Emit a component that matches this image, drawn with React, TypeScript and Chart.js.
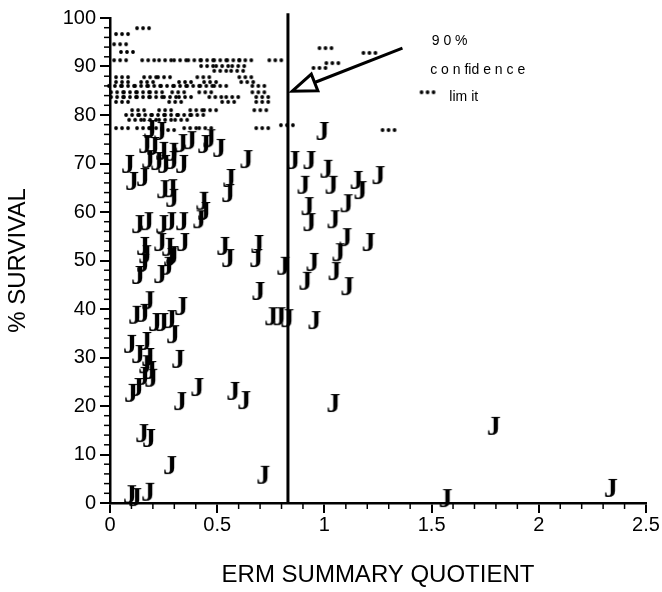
import React, { useEffect, useRef } from "react";
import { Chart, registerables } from "chart.js";

Chart.register(...registerables);

// "J" markers: [ERM summary quotient, % survival]
const jMarkers: [number, number][] = [
  [0.187, 76.7], [0.234, 76.3], [0.164, 73.6], [0.201, 73.2], [0.243, 72.2], [0.29, 72.0],
  [0.332, 73.8], [0.374, 74.4], [0.439, 73.6], [0.463, 74.8], [0.509, 72.8], [0.084, 69.5],
  [0.178, 70.5], [0.22, 70.1], [0.252, 69.5], [0.29, 70.3], [0.336, 69.5], [0.103, 66.0],
  [0.154, 66.8], [0.248, 64.3], [0.285, 64.5], [0.29, 62.5], [0.43, 61.9], [0.439, 59.8],
  [0.551, 63.5], [0.131, 57.1], [0.173, 57.7], [0.243, 57.1], [0.28, 57.7], [0.336, 57.7],
  [0.416, 58.1], [0.154, 52.6], [0.164, 50.9], [0.234, 53.4], [0.271, 52.4], [0.29, 50.7],
  [0.341, 53.4], [0.131, 46.6], [0.154, 49.1], [0.234, 46.8], [0.266, 48.5], [0.28, 50.3],
  [0.178, 41.4], [0.117, 38.4], [0.154, 38.8], [0.21, 36.9], [0.243, 36.9], [0.28, 37.5],
  [0.332, 40.2], [0.294, 34.4], [0.093, 32.4], [0.164, 33.0], [0.131, 30.3], [0.178, 29.7],
  [0.164, 28.2], [0.187, 27.0], [0.154, 25.8], [0.192, 25.4], [0.318, 29.3], [0.098, 22.3],
  [0.126, 23.5], [0.327, 20.6], [0.407, 23.5], [0.15, 14.0], [0.182, 13.0], [0.28, 7.4],
  [0.093, 1.4], [0.117, 0.8], [0.178, 1.9],
  [0.528, 52.6], [0.551, 50.1], [0.687, 53.0], [0.682, 50.1], [0.692, 43.3], [0.575, 22.7],
  [0.626, 20.8], [0.715, 5.4], [0.556, 66.6], [0.636, 70.5],
  [0.991, 76.3], [0.855, 70.3], [0.93, 70.3], [1.009, 68.5], [0.902, 65.2], [1.033, 65.2],
  [1.15, 66.2], [1.168, 64.1], [1.252, 67.2], [0.921, 60.8], [1.103, 61.4], [0.93, 57.5],
  [1.042, 58.1], [1.098, 54.4], [1.206, 53.4], [1.065, 51.3], [0.944, 49.3], [0.808, 48.5],
  [0.911, 45.4], [1.047, 47.4], [1.107, 44.3], [0.752, 38.1], [0.79, 38.1], [0.827, 37.7],
  [0.953, 37.3], [1.042, 20.2], [1.79, 15.5], [1.565, 0.6], [2.336, 2.7],
];

// dotted ("•••") markers: [ERM summary quotient, % survival]
const dotMarkers: [number, number][] = [
  [0.154, 97.9], [0.056, 96.7], [0.047, 94.6], [0.079, 93.0],
  [0.047, 91.3], [0.178, 91.3], [0.257, 91.3], [0.327, 91.3], [0.393, 91.3], [0.453, 91.3],
  [0.514, 91.3], [0.575, 91.3], [0.631, 91.3], [0.771, 91.3],
  [0.453, 90.1], [0.523, 90.1], [0.598, 90.1],
  [0.514, 89.1], [0.593, 89.1],
  [0.056, 87.8], [0.187, 87.8], [0.252, 87.8], [0.435, 87.8], [0.631, 87.8],
  [0.056, 86.8], [0.173, 86.8], [0.35, 86.8], [0.467, 86.8], [0.64, 86.8],
  [0.023, 86.0], [0.084, 86.0], [0.145, 86.0], [0.206, 86.0], [0.266, 86.0], [0.327, 86.0],
  [0.388, 86.0], [0.449, 86.0], [0.514, 86.0], [0.692, 86.0],
  [0.033, 84.7], [0.093, 84.7], [0.154, 84.7], [0.215, 84.7], [0.318, 84.7], [0.444, 84.7],
  [0.692, 84.7],
  [0.033, 83.7], [0.093, 83.7], [0.154, 83.7], [0.215, 83.7], [0.28, 83.7], [0.35, 83.7],
  [0.491, 83.7], [0.57, 83.7], [0.71, 83.7],
  [0.056, 82.7], [0.304, 82.7], [0.551, 82.7], [0.71, 82.7],
  [0.131, 81.0], [0.257, 81.0], [0.402, 81.0], [0.467, 81.0], [0.701, 81.0],
  [0.103, 80.0], [0.164, 80.0], [0.224, 80.0], [0.285, 80.0], [0.346, 80.0], [0.407, 80.0],
  [0.117, 79.0], [0.187, 79.0], [0.257, 79.0], [0.332, 79.0],
  [0.825, 77.9],
  [0.056, 77.3], [0.154, 77.3], [0.215, 77.3], [0.374, 77.3], [0.444, 77.3], [0.71, 77.3],
  [0.271, 76.9], [1.299, 76.9],
  [1.005, 93.8], [1.21, 92.8], [1.037, 90.7], [0.977, 89.7], [1.481, 84.7],
];

const xTickValues = [0, 0.5, 1, 1.5, 2, 2.5];
const yTickValues = [0, 10, 20, 30, 40, 50, 60, 70, 80, 90, 100];
const limitX = 0.83;
const noteLines = ["9 0 %", "c o n fid e n c e", "lim it"];
const noteX = [1.584, 1.715, 1.65];
const noteY = [95.2, 89.3, 83.6];
const arrowFrom: [number, number] = [1.364, 93.8];
const arrowTo: [number, number] = [0.85, 84.9];

const SANS = "'Liberation Sans', Arial, Helvetica, sans-serif";

function makeJ(): HTMLCanvasElement {
  const c = document.createElement("canvas");
  c.width = 26;
  c.height = 32;
  const g = c.getContext("2d")!;
  g.fillStyle = "#000";
  g.font = "bold 28px 'Liberation Serif', 'Times New Roman', serif";
  g.textAlign = "center";
  g.textBaseline = "middle";
  g.fillText("J", 13, 16);
  return c;
}

function makeDots(): HTMLCanvasElement {
  const c = document.createElement("canvas");
  c.width = 18;
  c.height = 6;
  const g = c.getContext("2d")!;
  g.fillStyle = "#000";
  [3, 9, 15].forEach((cx) => {
    g.beginPath();
    g.arc(cx, 3, 1.9, 0, Math.PI * 2);
    g.fill();
  });
  return c;
}

const extrasPlugin = {
  id: "extras",
  afterDraw(chart: any) {
    const { ctx, scales } = chart;
    const x = scales.x;
    const y = scales.y;
    ctx.save();
    ctx.strokeStyle = "#000";
    ctx.lineWidth = 1.5;
    // minor ticks
    for (let i = 0; i <= 25; i++) {
      if (i % 5 === 0) continue;
      const px = x.getPixelForValue(i / 10);
      ctx.beginPath();
      ctx.moveTo(px, y.bottom);
      ctx.lineTo(px, y.bottom + 6);
      ctx.stroke();
    }
    for (let i = 0; i <= 50; i++) {
      if (i % 5 === 0) continue;
      const py = y.getPixelForValue(i * 2);
      ctx.beginPath();
      ctx.moveTo(x.left, py);
      ctx.lineTo(x.left - 6, py);
      ctx.stroke();
    }
    // annotation text
    ctx.fillStyle = "#000";
    ctx.font = `14px ${SANS}`;
    ctx.textAlign = "center";
    ctx.textBaseline = "middle";
    noteLines.forEach((t, i) => {
      ctx.fillText(t, x.getPixelForValue(noteX[i]), y.getPixelForValue(noteY[i]));
    });
    // arrow
    const x0 = x.getPixelForValue(arrowFrom[0]);
    const y0 = y.getPixelForValue(arrowFrom[1]);
    const x1 = x.getPixelForValue(arrowTo[0]);
    const y1 = y.getPixelForValue(arrowTo[1]);
    const dx = x1 - x0;
    const dy = y1 - y0;
    const len = Math.hypot(dx, dy);
    const ux = dx / len;
    const uy = dy / len;
    const headLen = 24;
    const half = 9;
    const bx = x1 - ux * headLen;
    const by = y1 - uy * headLen;
    ctx.lineWidth = 3;
    ctx.lineJoin = "miter";
    ctx.beginPath();
    ctx.moveTo(x0, y0);
    ctx.lineTo(bx, by);
    ctx.stroke();
    ctx.beginPath();
    ctx.moveTo(x1, y1);
    ctx.lineTo(bx - uy * half, by + ux * half);
    ctx.lineTo(bx + uy * half, by - ux * half);
    ctx.closePath();
    ctx.fillStyle = "#fff";
    ctx.fill();
    ctx.stroke();
    ctx.restore();
  },
};

export default function App() {
  const ref = useRef<HTMLCanvasElement | null>(null);

  useEffect(() => {
    if (!ref.current) return;
    const jImg = makeJ();
    const dotImg = makeDots();
    const chart = new Chart(ref.current, {
      type: "scatter",
      data: {
        datasets: [
          {
            label: "J",
            data: jMarkers.map(([x, y]) => ({ x, y })),
            pointStyle: jImg as any,
            pointRadius: 6,
            clip: false as any,
          },
          {
            label: "dots",
            data: dotMarkers.map(([x, y]) => ({ x, y })),
            pointStyle: dotImg as any,
            pointRadius: 4,
            clip: false as any,
          },
          {
            type: "line" as any,
            label: "limit",
            data: [
              { x: limitX, y: 0 },
              { x: limitX, y: 101 },
            ],
            borderColor: "#000",
            borderWidth: 3,
            pointRadius: 0,
            clip: false as any,
          } as any,
        ],
      },
      options: {
        animation: false,
        responsive: false,
        maintainAspectRatio: false,
        layout: { padding: { left: 0, right: 16, top: 18, bottom: 0 } },
        plugins: { legend: { display: false }, tooltip: { enabled: false } },
        scales: {
          x: {
            type: "linear",
            position: "bottom",
            min: 0,
            max: 2.5,
            afterBuildTicks: (s: any) => {
              s.ticks = xTickValues.map((v) => ({ value: v }));
            },
            afterFit: (s: any) => {
              s.height = 89;
            },
            ticks: {
              color: "#000",
              font: { family: SANS, size: 20 },
              padding: 0,
              maxRotation: 0,
              autoSkip: false,
              callback: (v: any) => String(v),
            },
            grid: {
              display: true,
              drawOnChartArea: false,
              drawTicks: true,
              tickLength: 10,
              color: "#000",
              lineWidth: 2,
            },
            border: { display: true, color: "#000", width: 2.5 },
            title: {
              display: true,
              text: "ERM SUMMARY QUOTIENT",
              color: "#000",
              font: { family: SANS, size: 24 },
              padding: { top: 0, bottom: 2 },
            },
          },
          y: {
            type: "linear",
            position: "left",
            min: 0,
            max: 100,
            afterBuildTicks: (s: any) => {
              s.ticks = yTickValues.map((v) => ({ value: v }));
            },
            afterFit: (s: any) => {
              s.width = 110;
            },
            ticks: {
              color: "#000",
              font: { family: SANS, size: 20 },
              padding: 4,
              autoSkip: false,
              callback: (v: any) => String(v),
            },
            grid: {
              display: true,
              drawOnChartArea: false,
              drawTicks: true,
              tickLength: 10,
              color: "#000",
              lineWidth: 2,
            },
            border: { display: true, color: "#000", width: 2.5 },
            title: {
              display: true,
              text: "% SURVIVAL",
              color: "#000",
              font: { family: SANS, size: 24 },
              padding: { top: 4, bottom: 0 },
            },
          },
        },
      },
      plugins: [extrasPlugin],
    });
    return () => chart.destroy();
  }, []);

  return (
    <div style={{ position: "absolute", left: 0, top: 0, width: 662, height: 592 }}>
      <canvas ref={ref} width={662} height={592} style={{ display: "block" }} />
    </div>
  );
}
